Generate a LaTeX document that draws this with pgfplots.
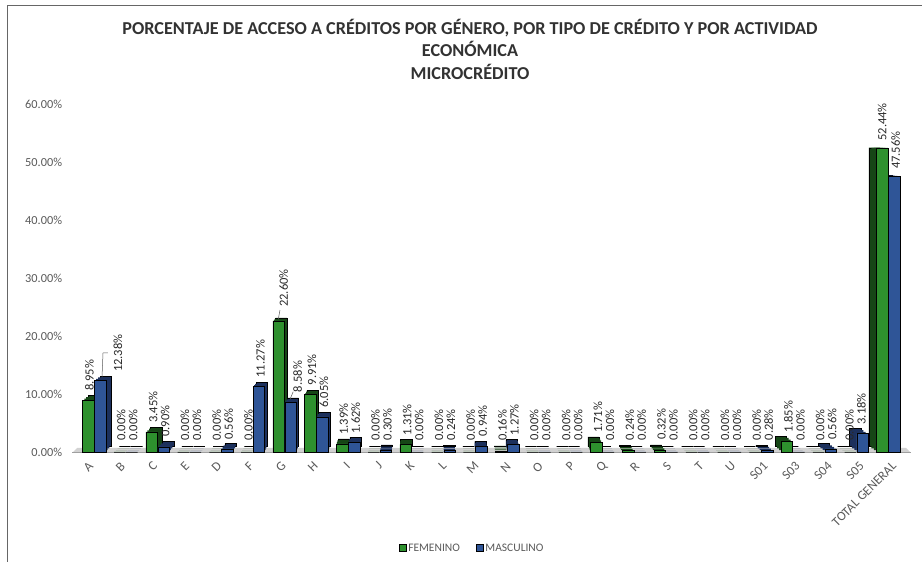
\documentclass[border=0pt]{standalone}
\usepackage{fontspec}
\setmainfont{Carlito}
\usepackage{pgfplots}
\pgfplotsset{compat=1.18}
\usepackage{pgfplotstable}
\pgfplotsset{/pgf/number format/assume math mode=true}
\definecolor{gfront}{RGB}{46,145,46}
\definecolor{gside}{RGB}{22,70,22}
\definecolor{bfront}{RGB}{47,85,151}
\definecolor{bside}{RGB}{28,48,92}
\definecolor{tickgray}{RGB}{89,89,89}
\definecolor{labgray}{RGB}{40,40,40}
\definecolor{titlegray}{RGB}{50,50,50}

\pgfplotstableread{
x y dx dy
0 8.95 1.5 9
1 0 1.5 11
2 3.45 1.5 9
3 0 1.5 11
4 0 1.5 11
5 0 1.5 11
6 22.60 5 14
7 9.91 1.5 9
8 1.39 1.5 9
9 0 1.5 11
10 1.31 1.5 9
11 0 1.5 11
12 0 1.5 11
13 0.16 1.5 10
14 0 1.5 11
15 0 1.5 11
16 1.71 1.5 9
17 0.24 1.5 10
18 0.32 1.5 10
19 0 1.5 11
20 0 1.5 11
21 0 1.5 11
22 1.85 1.5 9
23 0 1.5 11
24 0 -1 11
25 52.44 0 7
}\fem

\pgfplotstableread{
x y dx dy
0 12.38 18 8
1 0 1.5 11
2 0.90 1.5 10
3 0 1.5 11
4 0.56 1.5 9
5 11.27 1.5 9
6 8.58 7 10
7 6.05 1.5 9
8 1.62 1.5 9
9 0.30 1.5 10
10 0 1.5 11
11 0.24 1.5 10
12 0.94 1.5 10
13 1.27 1.5 9
14 0 1.5 11
15 0 1.5 11
16 0 1.5 11
17 0 1.5 11
18 0 1.5 11
19 0 1.5 11
20 0 1.5 11
21 0.28 1.5 10
22 0 1.5 11
23 0.56 1.5 9
24 3.18 -1 9
25 47.56 1.5 7
}\masc

\begin{document}
\begin{tikzpicture}[x=1pt,y=1pt]
\begin{axis}[
  at={(68.6pt,110pt)}, anchor=south west,
  scale only axis, width=835.5pt, height=348pt,
  xmin=-0.8, xmax=25.5, ymin=0, ymax=60,
  clip=false,
  axis line style={draw=none},
  tick style={draw=none},
  major tick length=0pt,
  xtick={0,...,25},
  xticklabels={A,B,C,E,D,F,G,H,I,J,K,L,M,N,O,P,Q,R,S,T,U,S01,S03,S04,S05,TOTAL GENERAL},
  xticklabel style={shift={({(-3+0.36*\ticknum)*1pt},-12pt)}, rotate=45, anchor=east, inner sep=0pt,
     font=\fontsize{13}{14}\selectfont, text=tickgray},
  ytick={0,10,...,60},
  yticklabel={\pgfmathprintnumber[fixed,fixed zerofill,precision=2]{\tick}\%},
  yticklabel style={xshift=-3pt, font=\fontsize{12.3}{13}\selectfont, text=tickgray},
  ybar, bar width=11.5pt,
  legend style={at={(0.483,-0.276)}, anchor=center, draw=none, fill=none,
     legend columns=2, font=\fontsize{11.5}{12}\selectfont, text=tickgray,
     /tikz/every even column/.append style={column sep=14pt}},
]
% floor
\fill[gray!35] (axis cs:-0.69,-0.17) -- (axis cs:25.72,-0.17) -- (axis cs:25.56,0.69) -- (axis cs:-0.535,0.69) -- cycle;
\draw[gray!75, line width=1pt] (axis cs:-0.69,-0.17) -- (axis cs:25.72,-0.17);

% depth (back faces, scaled toward the vanishing point)
\addplot[fill=gside, draw=black, line width=0.4pt, bar shift=-6pt,
  scale around={0.983:(axis cs:10.64,53.8)}, forget plot]
  table[x=x,y=y]{\fem};
\addplot[fill=bside, draw=black, line width=0.4pt, bar shift=6pt,
  scale around={0.983:(axis cs:10.64,53.8)}, forget plot]
  table[x=x,y=y]{\masc};
\addplot[fill=gside, draw=none, bar shift=-6pt,
  scale around={0.9887:(axis cs:10.64,53.8)}, forget plot]
  table[x=x,y=y]{\fem};
\addplot[fill=bside, draw=none, bar shift=6pt,
  scale around={0.9887:(axis cs:10.64,53.8)}, forget plot]
  table[x=x,y=y]{\masc};
\addplot[fill=gside, draw=none, bar shift=-6pt,
  scale around={0.9943:(axis cs:10.64,53.8)}, forget plot]
  table[x=x,y=y]{\fem};
\addplot[fill=bside, draw=none, bar shift=6pt,
  scale around={0.9943:(axis cs:10.64,53.8)}, forget plot]
  table[x=x,y=y]{\masc};

% femenino
\addplot[fill=gfront, draw=black, line width=0.4pt, bar shift=-6pt,
  legend image code/.code={\draw[fill=gfront,draw=black,line width=0.5pt] (0pt,-3.5pt) rectangle (7pt,3.5pt);},
  visualization depends on={\thisrow{dx}\as\dx},
  visualization depends on={\thisrow{dy}\as\dy},
  nodes near coords={\pgfmathprintnumber[fixed,fixed zerofill,precision=2]{\pgfplotspointmeta}\%},
  nodes near coords style={shift={(\dx pt,\dy pt)}, rotate=90, anchor=west, inner sep=0pt,
     font=\fontsize{12.5}{13}\selectfont, text=labgray}]
  table[x=x,y=y]{\fem};
\addlegendentry{FEMENINO}

% masculino
\addplot[fill=bfront, draw=black, line width=0.4pt, bar shift=6pt,
  legend image code/.code={\draw[fill=bfront,draw=black,line width=0.5pt] (0pt,-3.5pt) rectangle (7pt,3.5pt);},
  visualization depends on={\thisrow{dx}\as\dx},
  visualization depends on={\thisrow{dy}\as\dy},
  nodes near coords={\pgfmathprintnumber[fixed,fixed zerofill,precision=2]{\pgfplotspointmeta}\%},
  nodes near coords style={shift={(\dx pt,\dy pt)}, rotate=90, anchor=west, inner sep=0pt,
     font=\fontsize{12.5}{13}\selectfont, text=labgray}]
  table[x=x,y=y]{\masc};
\addlegendentry{MASCULINO}

% leader lines
\draw[gray!70!black, line width=0.5pt] (axis cs:0.252,12.93) -- (axis cs:0.283,17.07) -- (axis cs:0.44,17.07);
\draw[gray!70!black, line width=0.5pt] (axis cs:5.80,22.88) -- (axis cs:5.855,24.48);
\draw[gray!70!black, line width=0.5pt] (axis cs:6.17,9.09) -- (axis cs:6.27,10.4);
\end{axis}

% titles
\node[font=\bfseries\fontsize{18.2}{20}\selectfont, text=titlegray] at (470pt,534pt) {PORCENTAJE DE ACCESO A CRÉDITOS POR GÉNERO, POR TIPO DE CRÉDITO Y POR ACTIVIDAD};
\node[font=\bfseries\fontsize{18.2}{20}\selectfont, text=titlegray] at (470pt,513pt) {ECONÓMICA};
\node[font=\bfseries\fontsize{18.2}{20}\selectfont, text=titlegray] at (470pt,490pt) {MICROCRÉDITO};

% frame
\draw[gray!80!black, line width=1pt] (7pt,0pt) -- (7pt,556pt) -- (922pt,556pt);

\pgfresetboundingbox
\useasboundingbox (0,0) rectangle (922pt,562pt);
\end{tikzpicture}
\end{document}
